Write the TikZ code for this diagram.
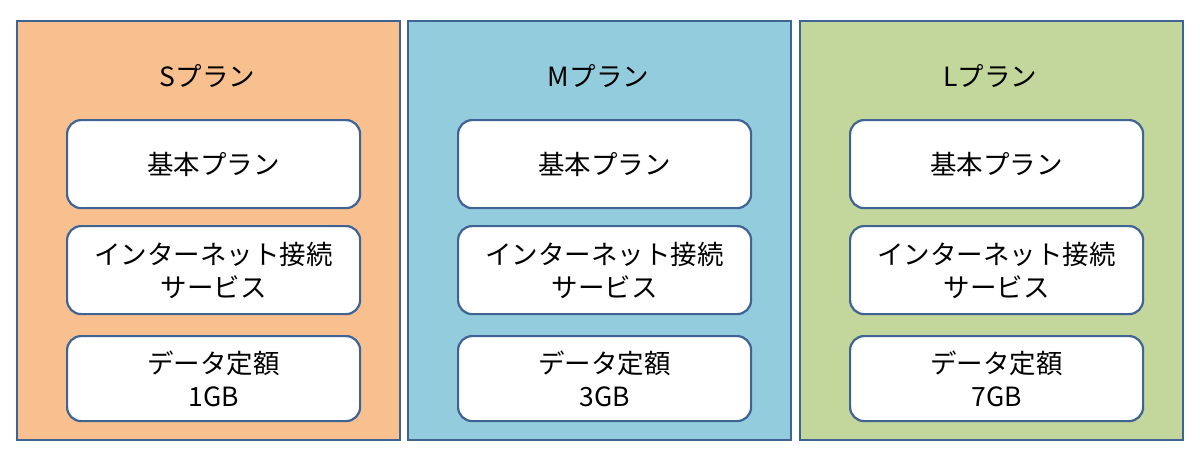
\documentclass[tikz,border=0pt]{standalone}
\usepackage{fontspec}
\setmainfont{Noto Sans CJK JP}
\definecolor{edge}{HTML}{3F6393}
\definecolor{sfill}{HTML}{F9C08F}
\definecolor{mfill}{HTML}{93CDDD}
\definecolor{lfill}{HTML}{C3D69B}
\tikzset{
  plan/.style={draw=edge, line width=2.2pt, minimum width=383pt, minimum height=419pt, anchor=north west, inner sep=0pt},
  item/.style={draw=edge, line width=2.2pt, fill=white, rounded corners=14pt, minimum width=293pt, anchor=north west, inner sep=0pt, align=center, font=\fontsize{26.5}{33}\selectfont},
  ttl/.style={font=\fontsize{26.5}{30}\selectfont}
}
\begin{document}
\begin{tikzpicture}[x=1pt,y=-1pt]
\useasboundingbox (0,0) rectangle (1200,456);
\foreach \n/\x/\c/\t/\g in {s/16/sfill/S/1GB, m/407/mfill/M/3GB, l/799/lfill/L/7GB}{
  \node[plan, fill=\c] (\n box) at (\x,20) {};
  \node[ttl] (\n title) at (\x+191.5,76) {\t プラン};
  \node[item, minimum height=88pt] (\n basic) at (\x+50,119) {基本プラン};
  \node[item, minimum height=88pt] (\n net) at (\x+50,225) {インターネット接続\\サービス};
  \node[item, minimum height=85pt] (\n data) at (\x+50,335) {データ定額\\\g};
}
\end{tikzpicture}
\end{document}
